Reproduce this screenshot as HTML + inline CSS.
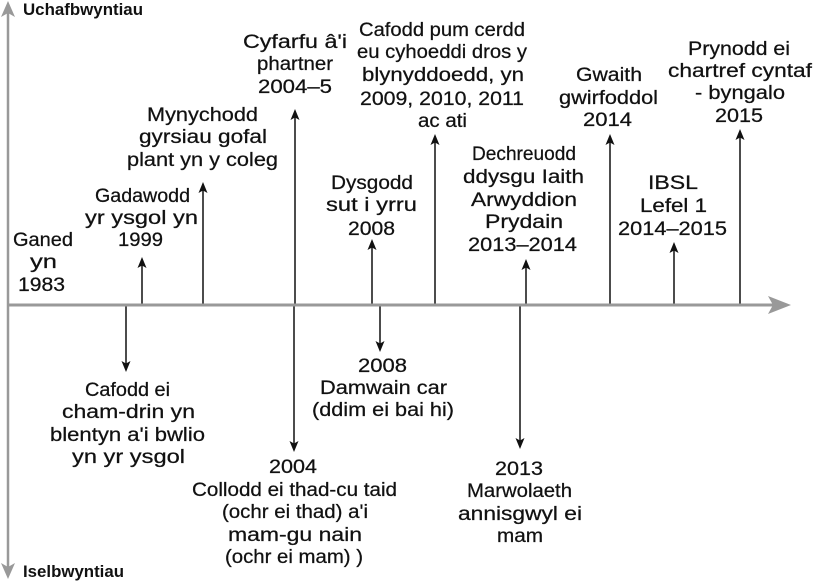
<!DOCTYPE html>
<html>
<head>
<meta charset="utf-8">
<style>
  html,body{margin:0;padding:0;background:#fff;}
  svg{display:block;}
  .h{font-family:"Liberation Sans",sans-serif;font-size:19px;fill:#111;stroke:#111;stroke-width:0.25;}
  .ax{font-family:"Liberation Sans",sans-serif;font-size:17px;font-weight:bold;fill:#111;}
</style>
</head>
<body>
<svg width="817" height="582" viewBox="0 0 817 582" xmlns="http://www.w3.org/2000/svg">
  <!-- black connectors -->
  <g stroke="#111" stroke-width="1.5" fill="none">
    <!-- up -->
    <line x1="142" y1="305" x2="142" y2="265"/>
    <line x1="203" y1="305" x2="203" y2="190"/>
    <line x1="295" y1="305" x2="295" y2="117"/>
    <line x1="372" y1="305" x2="372" y2="247"/>
    <line x1="435" y1="305" x2="435" y2="142"/>
    <line x1="526" y1="305" x2="526" y2="267"/>
    <line x1="610" y1="305" x2="610" y2="142"/>
    <line x1="674" y1="305" x2="674" y2="250"/>
    <line x1="740" y1="305" x2="740" y2="137"/>
    <!-- down -->
    <line x1="126" y1="305" x2="126" y2="364"/>
    <line x1="294" y1="305" x2="294" y2="444"/>
    <line x1="380" y1="305" x2="380" y2="344"/>
    <line x1="520" y1="305" x2="520" y2="441"/>
  </g>
  <g fill="#111">
    <!-- up heads -->
    <path d="M142,257 L146.5,268 L142,265.5 L137.5,268 Z"/>
    <path d="M203,182 L207.5,193 L203,190.5 L198.5,193 Z"/>
    <path d="M295,109 L299.5,120 L295,117.5 L290.5,120 Z"/>
    <path d="M372,239 L376.5,250 L372,247.5 L367.5,250 Z"/>
    <path d="M435,134 L439.5,145 L435,142.5 L430.5,145 Z"/>
    <path d="M526,259 L530.5,270 L526,267.5 L521.5,270 Z"/>
    <path d="M610,134 L614.5,145 L610,142.5 L605.5,145 Z"/>
    <path d="M674,242 L678.5,253 L674,250.5 L669.5,253 Z"/>
    <path d="M740,129 L744.5,140 L740,137.5 L735.5,140 Z"/>
    <!-- down heads -->
    <path d="M126,372 L130.5,361 L126,363.5 L121.5,361 Z"/>
    <path d="M294,452 L298.5,441 L294,443.5 L289.5,441 Z"/>
    <path d="M380,352 L384.5,341 L380,343.5 L375.5,341 Z"/>
    <path d="M520,449 L524.5,438 L520,440.5 L515.5,438 Z"/>
  </g>

  <!-- gray axes -->
  <g stroke="#999" fill="none">
    <line x1="8" y1="12" x2="8" y2="568" stroke-width="2.5"/>
    <line x1="7" y1="305" x2="775" y2="305" stroke-width="3"/>
  </g>
  <g fill="#999">
    <path d="M8,1 L15,17 L8,13 L1,17 Z"/>
    <path d="M8,579 L15,563 L8,567 L1,563 Z"/>
    <path d="M791,305 L768,296 L773,305 L768,314 Z"/>
  </g>

  <text class="ax" x="23" y="15" textLength="120" lengthAdjust="spacingAndGlyphs">Uchafbwyntiau</text>
  <text class="ax" x="23" y="577" textLength="101" lengthAdjust="spacingAndGlyphs">Iselbwyntiau</text>

  <g class="h">
    <text x="13" y="246" textLength="60" lengthAdjust="spacingAndGlyphs">Ganed</text>
    <text x="30" y="268" textLength="27" lengthAdjust="spacingAndGlyphs">yn</text>
    <text x="18" y="291" textLength="47" lengthAdjust="spacingAndGlyphs">1983</text>

    <text x="95" y="202" textLength="95" lengthAdjust="spacingAndGlyphs">Gadawodd</text>
    <text x="85" y="224" textLength="113" lengthAdjust="spacingAndGlyphs">yr ysgol yn</text>
    <text x="118" y="246" textLength="45" lengthAdjust="spacingAndGlyphs">1999</text>

    <text x="147" y="121" textLength="111" lengthAdjust="spacingAndGlyphs">Mynychodd</text>
    <text x="139" y="143" textLength="128" lengthAdjust="spacingAndGlyphs">gyrsiau gofal</text>
    <text x="127" y="166" textLength="151" lengthAdjust="spacingAndGlyphs">plant yn y coleg</text>

    <text x="243" y="48" textLength="104" lengthAdjust="spacingAndGlyphs">Cyfarfu â'i</text>
    <text x="257" y="70" textLength="76" lengthAdjust="spacingAndGlyphs">phartner</text>
    <text x="258" y="93" textLength="74" lengthAdjust="spacingAndGlyphs">2004–5</text>

    <text x="359" y="36" textLength="166" lengthAdjust="spacingAndGlyphs">Cafodd pum cerdd</text>
    <text x="357" y="58" textLength="170" lengthAdjust="spacingAndGlyphs">eu cyhoeddi dros y</text>
    <text x="362" y="81" textLength="162" lengthAdjust="spacingAndGlyphs">blynyddoedd, yn</text>
    <text x="360" y="105" textLength="164" lengthAdjust="spacingAndGlyphs">2009, 2010, 2011</text>
    <text x="418" y="127" textLength="49" lengthAdjust="spacingAndGlyphs">ac ati</text>

    <text x="331" y="189" textLength="82" lengthAdjust="spacingAndGlyphs">Dysgodd</text>
    <text x="326" y="211" textLength="91" lengthAdjust="spacingAndGlyphs">sut i yrru</text>
    <text x="348" y="235" textLength="47" lengthAdjust="spacingAndGlyphs">2008</text>

    <text x="472" y="160" textLength="104" lengthAdjust="spacingAndGlyphs">Dechreuodd</text>
    <text x="463" y="183" textLength="121" lengthAdjust="spacingAndGlyphs">ddysgu Iaith</text>
    <text x="471" y="206" textLength="106" lengthAdjust="spacingAndGlyphs">Arwyddion</text>
    <text x="485" y="228" textLength="78" lengthAdjust="spacingAndGlyphs">Prydain</text>
    <text x="468" y="251" textLength="109" lengthAdjust="spacingAndGlyphs">2013–2014</text>

    <text x="576" y="81" textLength="66" lengthAdjust="spacingAndGlyphs">Gwaith</text>
    <text x="559" y="104" textLength="99" lengthAdjust="spacingAndGlyphs">gwirfoddol</text>
    <text x="583" y="126" textLength="49" lengthAdjust="spacingAndGlyphs">2014</text>

    <text x="688" y="55" textLength="102" lengthAdjust="spacingAndGlyphs">Prynodd ei</text>
    <text x="668" y="77" textLength="144" lengthAdjust="spacingAndGlyphs">chartref cyntaf</text>
    <text x="695" y="99" textLength="90" lengthAdjust="spacingAndGlyphs">- byngalo</text>
    <text x="715" y="122" textLength="48" lengthAdjust="spacingAndGlyphs">2015</text>

    <text x="648" y="189" textLength="50" lengthAdjust="spacingAndGlyphs">IBSL</text>
    <text x="640" y="212" textLength="67" lengthAdjust="spacingAndGlyphs">Lefel  1</text>
    <text x="618" y="235" textLength="109" lengthAdjust="spacingAndGlyphs">2014–2015</text>

    <text x="85" y="396" textLength="85" lengthAdjust="spacingAndGlyphs">Cafodd ei</text>
    <text x="62" y="418" textLength="133" lengthAdjust="spacingAndGlyphs">cham-drin yn</text>
    <text x="50" y="441" textLength="155" lengthAdjust="spacingAndGlyphs">blentyn a'i bwlio</text>
    <text x="72" y="463" textLength="113" lengthAdjust="spacingAndGlyphs">yn yr ysgol</text>

    <text x="358" y="372" textLength="49" lengthAdjust="spacingAndGlyphs">2008</text>
    <text x="320" y="394" textLength="127" lengthAdjust="spacingAndGlyphs">Damwain car</text>
    <text x="312" y="416" textLength="142" lengthAdjust="spacingAndGlyphs">(ddim ei bai hi)</text>

    <text x="269" y="473" textLength="48" lengthAdjust="spacingAndGlyphs">2004</text>
    <text x="192" y="496" textLength="205" lengthAdjust="spacingAndGlyphs">Collodd ei thad-cu taid</text>
    <text x="222" y="518" textLength="146" lengthAdjust="spacingAndGlyphs">(ochr ei thad) a'i</text>
    <text x="228" y="541" textLength="134" lengthAdjust="spacingAndGlyphs">mam-gu nain</text>
    <text x="225" y="563" textLength="138" lengthAdjust="spacingAndGlyphs">(ochr ei mam) )</text>

    <text x="495" y="475" textLength="48" lengthAdjust="spacingAndGlyphs">2013</text>
    <text x="467" y="497" textLength="105" lengthAdjust="spacingAndGlyphs">Marwolaeth</text>
    <text x="458" y="520" textLength="124" lengthAdjust="spacingAndGlyphs">annisgwyl ei</text>
    <text x="497" y="542" textLength="46" lengthAdjust="spacingAndGlyphs">mam</text>
  </g>
</svg>
</body>
</html>
